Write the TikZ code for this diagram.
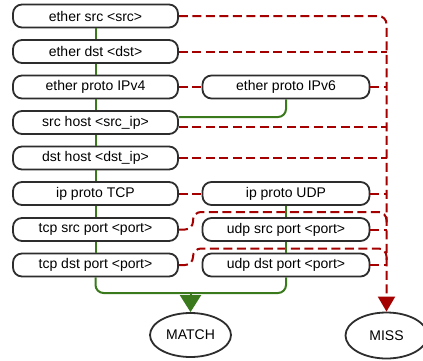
\documentclass[tikz,border=0pt]{standalone}
\usepackage{fontspec}
\setmainfont{Liberation Sans}
\usetikzlibrary{arrows.meta,shapes.geometric}
\definecolor{nomatchred}{RGB}{165,0,0}
\definecolor{matchgreen}{RGB}{58,122,28}
\definecolor{boxline}{RGB}{45,45,45}
\begin{document}
\begin{tikzpicture}[x=1pt,y=-1pt,
  testbox/.style={draw=boxline,line width=1.8pt,rounded corners=9pt,fill=white,
    minimum height=23pt,inner sep=0pt,font=\fontsize{14}{16}\selectfont},
  leftbox/.style={testbox,minimum width=165pt},
  rightbox/.style={testbox,minimum width=167pt},
  result/.style={ellipse,draw=boxline,line width=1.8pt,fill=white,inner sep=0pt,
    font=\fontsize{14}{16}\selectfont},
  pass/.style={draw=matchgreen,line width=2pt},
  fail/.style={draw=nomatchred,line width=2pt,dash pattern=on 9pt off 4.5pt},
  passtip/.style={-{Triangle[width=21pt,length=17pt]},fill=matchgreen},
  failtip/.style={-{Triangle[width=17pt,length=15pt]}},
]
\useasboundingbox (0,0) rectangle (423,360);

% left column of filter tests
\node[leftbox] (esrc) at (95.5,16)    {ether src <src>};
\node[leftbox] (edst) at (95.5,51.5)  {ether dst <dst>};
\node[leftbox] (ev4)  at (95.5,87)    {ether proto IPv4};
\node[leftbox] (shost) at (95.5,122.5) {src host <src\_ip>};
\node[leftbox] (dhost) at (95.5,158)  {dst host <dst\_ip>};
\node[leftbox] (tcp)  at (95.5,193.5) {ip proto TCP};
\node[leftbox] (tsrc) at (95.5,229.5) {tcp src port <port>};
\node[leftbox] (tdst) at (95.5,265)   {tcp dst port <port>};

% right column of alternative tests
\node[rightbox] (ev6)  at (286,87)    {ether proto IPv6};
\node[rightbox] (udp)  at (286,193.5) {ip proto UDP};
\node[rightbox] (usrc) at (286,229.5) {udp src port <port>};
\node[rightbox] (udst) at (286,265)   {udp dst port <port>};

% outcomes
\node[result,minimum width=81pt,minimum height=44pt] (match) at (190.5,335) {MATCH};
\node[result,minimum width=82pt,minimum height=46pt] (miss) at (386.5,335.5) {MISS};

% helper points for the joining paths
\coordinate (mj) at (190.5,293);
\coordinate (tsrcup) at (193,212);
\coordinate (tdstup) at (193,248.5);
\coordinate (tsrcdown) at (386.5,225);
\coordinate (tdstdown) at (386.5,262);

% mismatch paths (red, dashed)
\draw[fail,rounded corners=8pt,failtip] (esrc.east) -| (miss.north);
\draw[fail] (edst.east) -- (edst.east -| miss.north);
\draw[fail] (ev4.east) -- (ev6.west);
\draw[fail] (ev6.east) -- (ev6.east -| miss.north);
\draw[fail] ([yshift=-4.5pt]shost.east) -- ([yshift=-4.5pt]shost.east -| miss.north);
\draw[fail] (dhost.east) -- (dhost.east -| miss.north);
\draw[fail] (tcp.east) -- (udp.west);
\draw[fail] (udp.east) -- (udp.east -| miss.north);
\draw[fail] (usrc.east) -- (usrc.east -| miss.north);
\draw[fail] (udst.east) -- (udst.east -| miss.north);
\draw[fail,rounded corners=8pt] (tsrc.east) -| (tsrcup) -| (tsrcdown);
\draw[fail,rounded corners=8pt] (tdst.east) -| (tdstup) -| (tdstdown);

% match paths (green)
\draw[pass] (esrc.south) -- (edst.north);
\draw[pass] (edst.south) -- (ev4.north);
\draw[pass] (ev4.south) -- (shost.north);
\draw[pass] (shost.south) -- (dhost.north);
\draw[pass] (dhost.south) -- (tcp.north);
\draw[pass] (tcp.south) -- (tsrc.north);
\draw[pass] (tsrc.south) -- (tdst.north);
\draw[pass,rounded corners=8pt] (ev6.south) |- ([yshift=5.5pt]shost.east);
\draw[pass] (udp.south) -- (usrc.north);
\draw[pass] (usrc.south) -- (udst.north);
\draw[pass,rounded corners=8pt] (tdst.south) |- (mj) -| (udst.south);
\draw[pass,passtip] (mj) -- (match.north);
\end{tikzpicture}
\end{document}
